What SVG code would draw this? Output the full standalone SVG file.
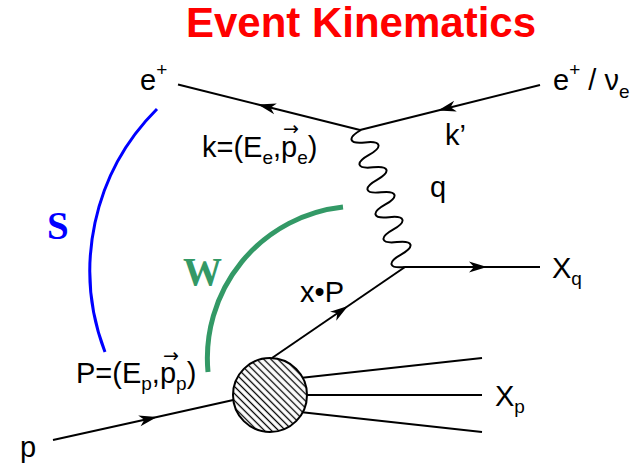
<svg xmlns="http://www.w3.org/2000/svg" width="637" height="465" viewBox="0 0 637 465">
<defs>
<style>
.t{font-family:"Liberation Sans",Arial,sans-serif;font-size:29px;fill:#000}
.s{font-size:19px}
.title{font-family:"Liberation Sans",Arial,sans-serif;font-size:42px;font-weight:bold;fill:#ff0000}
.big{font-family:"Liberation Serif","Times New Roman",serif;font-size:39px;font-weight:bold}
.vec{font-family:"DejaVu Sans",sans-serif;font-size:19px;fill:#000}
.ln{fill:none;stroke:#000;stroke-width:2}
</style>
<marker id="arr" viewBox="-19 -7 20 14" markerWidth="20" markerHeight="14" refX="0" refY="0" markerUnits="userSpaceOnUse" orient="auto">
<path d="M0,0 L-18,-5.5 L-13,0 L-18,5.5 Z" fill="#000"/>
</marker>
<pattern id="hatch" width="5" height="5" patternUnits="userSpaceOnUse" patternTransform="rotate(45)">
<rect width="5" height="5" fill="#fff"/>
<line x1="0" y1="2.5" x2="5" y2="2.5" stroke="#000" stroke-width="1.3"/>
</pattern>
</defs>
<rect width="637" height="465" fill="#fff"/>
<text class="title" x="361" y="37" text-anchor="middle">Event Kinematics</text>

<g id="connectors">
<path id="e-out" class="ln" d="M360,130 L258,104.5 L178,84.5" marker-mid="url(#arr)"/>
<path id="e-in" class="ln" d="M540,85 L438,110.5 L360,130" marker-mid="url(#arr)"/>
<path id="photon" class="ln" d="M361,130 C346.77,138 348.77,144.23 365,142.45 S383.23,146.9 369,154.91 S356.77,169.14 373,167.36 S391.23,171.81 377,179.82 S364.77,194.05 381,192.27 S399.23,196.72 385,204.73 S372.77,218.96 389,217.18 S407.23,221.63 393,229.64 S380.77,243.87 397,242.09 S415.23,246.54 401,254.55 S388.77,268.78 405,267"/>
<path id="q-out" class="ln" d="M405,267 L487,267 L540,267" marker-mid="url(#arr)"/>
<path id="xP" class="ln" d="M272,358 L348,306 L405,267" marker-mid="url(#arr)"/>
<path id="p-in" class="ln" d="M53,440 L157,417 L240,398.5" marker-mid="url(#arr)"/>
<path id="xp1" class="ln" d="M300,378 L482,358"/>
<path id="xp2" class="ln" d="M300,395 L482,395"/>
<path id="xp3" class="ln" d="M300,412 L482,432"/>
<path id="s-arc" d="M157,109 A228,228 0 0 0 105,352" fill="none" stroke="#0000ff" stroke-width="3"/>
<path id="w-arc" d="M208,372 A152,152 0 0 1 343,207" fill="none" stroke="#339966" stroke-width="5"/>
</g>

<g id="blob">
<circle cx="270" cy="395" r="37" fill="url(#hatch)" stroke="#000" stroke-width="2"/>
</g>

<g id="label-eplus">
<text class="t" x="140" y="90">e<tspan class="s" dy="-14">+</tspan></text>
</g>
<g id="label-eplus-nu">
<text class="t" x="553" y="90">e<tspan class="s" dy="-14">+</tspan><tspan dy="14"> / ν</tspan><tspan class="s" dy="8">e</tspan></text>
</g>
<g id="label-k">
<text class="t" x="202" y="157">k=(E<tspan class="s" dy="7">e</tspan><tspan dy="-7">,p</tspan><tspan class="s" dy="7">e</tspan><tspan dy="-7">)</tspan></text>
<text class="vec" x="291" y="135" text-anchor="middle">→</text>
</g>
<g id="label-kprime">
<text class="t" x="445" y="145">k’</text>
</g>
<g id="label-q">
<text class="t" x="430" y="197">q</text>
</g>
<g id="label-xP">
<text class="t" x="300" y="302">x•P</text>
</g>
<g id="label-Xq">
<text class="t" x="552" y="278">X<tspan class="s" dy="7">q</tspan></text>
</g>
<g id="label-Xp">
<text class="t" x="495" y="406">X<tspan class="s" dy="7">p</tspan></text>
</g>
<g id="label-P">
<text class="t" x="76" y="383">P=(E<tspan class="s" dy="7">p</tspan><tspan dy="-7">,p</tspan><tspan class="s" dy="7">p</tspan><tspan dy="-7">)</tspan></text>
<text class="vec" x="171" y="362" text-anchor="middle">→</text>
</g>
<g id="label-p">
<text class="t" x="20" y="457">p</text>
</g>
<g id="label-S">
<text class="big" x="47" y="239" fill="#0000ff">S</text>
</g>
<g id="label-W">
<text class="big" x="183" y="285" fill="#339966">W</text>
</g>
</svg>
